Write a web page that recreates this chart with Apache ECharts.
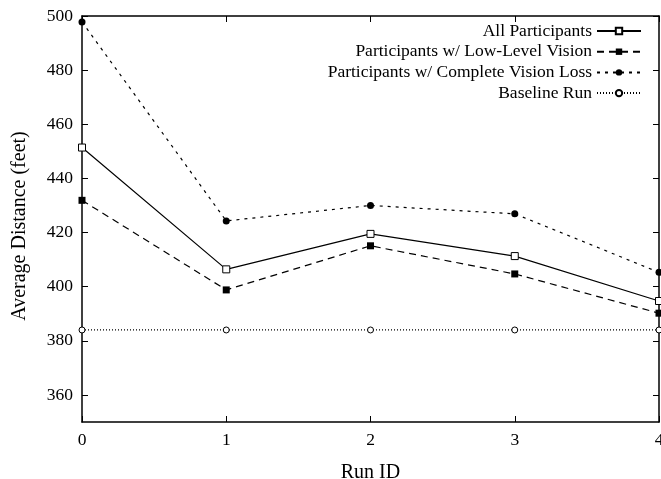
<!DOCTYPE html>
<html>
<head>
<meta charset="utf-8">
<script src="https://cdn.jsdelivr.net/npm/echarts@6/dist/echarts.min.js"></script>
<style>
html,body{margin:0;padding:0;background:#fff;}
#chart{width:661px;height:479px;}
</style>
</head>
<body>
<div id="chart"></div>
<script>
var runIds = [0, 1, 2, 3, 4];
var allParticipants = [451.4, 406.4, 419.5, 411.3, 394.7];
var lowLevelVision = [431.9, 398.8, 415.1, 404.7, 390.2];
var completeVisionLoss = [497.8, 424.3, 430.0, 426.9, 405.3];
var baselineRun = [384, 384, 384, 384, 384];
var yTicks = [360, 380, 400, 420, 440, 460, 480, 500];
var xTicks = [0, 1, 2, 3, 4];
var seriesNames = ['All Participants', 'Participants w/ Low-Level Vision', 'Participants w/ Complete Vision Loss', 'Baseline Run'];

function pairs(vals) { return runIds.map(function (x, i) { return [x, vals[i]]; }); }

var FONT = 'Liberation Serif';
var chart = echarts.init(document.getElementById('chart'));
var axisLine = { show: true, onZero: false, lineStyle: { color: '#000', width: 1.5 } };
var tick = { show: true, inside: true, length: 6, lineStyle: { color: '#000', width: 1 } };
var yTick = { show: true, inside: true, length: 6, customValues: yTicks, lineStyle: { color: '#000', width: 1 } };
var option = {
  animation: false,
  textStyle: { fontFamily: FONT, color: '#000' },
  grid: { left: 82, right: 2, top: 16, bottom: 57, containLabel: false, outerBoundsMode: 'none' },
  legend: {
    orient: 'vertical', right: 14, top: 17, align: 'right',
    itemWidth: 44, itemHeight: 8, itemGap: 2.7,
    textStyle: { fontFamily: FONT, fontSize: 17.5, lineHeight: 18, color: '#000' },
    data: seriesNames
  },
  xAxis: [{
    type: 'value', min: 0, max: 4, interval: 1, position: 'bottom',
    name: 'Run ID', nameLocation: 'middle', nameGap: 41,
    nameTextStyle: { fontFamily: FONT, fontSize: 20, color: '#000' },
    axisLine: axisLine,
    axisTick: tick,
    axisLabel: { fontFamily: FONT, fontSize: 17.5, color: '#000', margin: 9 },
    splitLine: { show: false }
  }, {
    type: 'value', min: 0, max: 4, interval: 1, position: 'top',
    axisLine: axisLine,
    axisTick: tick,
    axisLabel: { show: false }, splitLine: { show: false }
  }],
  yAxis: [{
    type: 'value', min: 350, max: 500, position: 'left',
    name: 'Average Distance (feet)', nameLocation: 'middle', nameGap: 52,
    nameTextStyle: { fontFamily: FONT, fontSize: 20, color: '#000', padding: [0, 14, 0, 0] },
    axisLine: axisLine,
    axisTick: yTick,
    axisLabel: { fontFamily: FONT, fontSize: 17.5, color: '#000', margin: 9, customValues: yTicks },
    splitLine: { show: false }
  }, {
    type: 'value', min: 350, max: 500, position: 'right',
    axisLine: axisLine,
    axisTick: yTick,
    axisLabel: { show: false }, splitLine: { show: false }
  }],
  series: [{
    name: seriesNames[0], type: 'line', data: pairs(allParticipants),
    symbol: 'rect', symbolSize: 7,
    itemStyle: { color: '#fff', borderColor: '#000', borderWidth: 1 },
    lineStyle: { color: '#000', width: 1.2, type: 'solid' }
  }, {
    name: seriesNames[1], type: 'line', data: pairs(lowLevelVision),
    symbol: 'rect', symbolSize: 7,
    itemStyle: { color: '#000', borderColor: '#000', borderWidth: 0 },
    lineStyle: { color: '#000', width: 1.2, type: [7, 5] }
  }, {
    name: seriesNames[2], type: 'line', data: pairs(completeVisionLoss),
    symbol: 'circle', symbolSize: 7,
    itemStyle: { color: '#000', borderColor: '#000', borderWidth: 0 },
    lineStyle: { color: '#000', width: 1.2, type: [3, 5] }
  }, {
    name: seriesNames[3], type: 'line', data: pairs(baselineRun),
    symbol: 'circle', symbolSize: 6,
    itemStyle: { color: '#fff', borderColor: '#000', borderWidth: 1 },
    lineStyle: { color: '#000', width: 1.2, type: [1, 2] }
  }]
};
chart.setOption(option);
</script>
</body>
</html>
